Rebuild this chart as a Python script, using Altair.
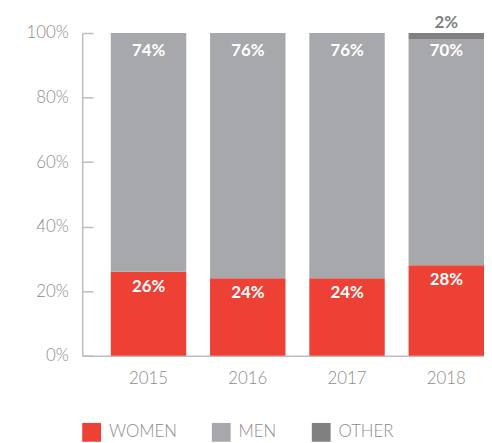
import altair as alt
import pandas as pd

years = ["2015", "2016", "2017", "2018"]
women = [26, 24, 24, 28]
men = [74, 76, 76, 70]
other = [0, 0, 0, 2]
groups = ["WOMEN", "MEN", "OTHER"]
colors = ["#EE4136", "#A7A8AB", "#808080"]
y_ticks = [0, 20, 40, 60, 80, 100]

rows = []
for i, yr in enumerate(years):
    for k, (g, v) in enumerate(zip(groups, [women[i], men[i], other[i]])):
        rows.append({"year": yr, "group": g, "value": v, "order": k})
bars_df = pd.DataFrame(rows)

lab_df = pd.DataFrame({
    "year": years,
    "women": women,
    "men": men,
    "other": other,
})
lab_df["total"] = lab_df["women"] + lab_df["men"] + lab_df["other"]
lab_df["w_lab"] = lab_df["women"].astype(str) + "%"
lab_df["m_lab"] = lab_df["men"].astype(str) + "%"
lab_df["o_lab"] = lab_df["other"].astype(str) + "%"

FONT = "Lato"
AXC = "#BCBEC0"
LABC = "#8C8C8C"

xscale = alt.Scale(domain=years, paddingInner=0.24, paddingOuter=0.144, align=1)
yscale = alt.Scale(domain=[0, 100], nice=False)

xaxis = alt.Axis(title=None, labelAngle=0, ticks=False, domain=True,
                 domainColor=AXC, domainWidth=1.5, labelPadding=15,
                 labelFontSize=17, labelColor=LABC, labelFont=FONT,
                 labelFontWeight=300)

bars = alt.Chart(bars_df).mark_bar().encode(
    x=alt.X("year:N", scale=xscale, axis=xaxis),
    y=alt.Y("value:Q", stack="zero", scale=yscale,
            axis=alt.Axis(title=None, values=y_ticks, labelExpr="datum.value + '%'",
                          ticks=False, domain=True, domainColor=AXC, domainWidth=1.5,
                          grid=False, labelPadding=14, labelFontSize=17,
                          labelColor=LABC, labelFont=FONT, labelFontWeight=300)),
    color=alt.Color("group:N", scale=alt.Scale(domain=groups, range=colors),
                    legend=alt.Legend(title=None, orient="none", legendX=0, legendY=394,
                                      direction="horizontal", symbolType="square",
                                      symbolSize=361, symbolStrokeWidth=0,
                                      labelOffset=8, columnPadding=35,
                                      labelFontSize=17, labelColor=LABC,
                                      labelFont=FONT, labelFontWeight=300)),
    order=alt.Order("order:Q"),
)

base = alt.Chart(lab_df)

w_text = base.mark_text(color="white", fontWeight="bold", fontSize=17, font=FONT,
                        dy=15, baseline="middle").encode(
    x=alt.X("year:N", scale=xscale, axis=xaxis),
    y=alt.Y("women:Q", scale=yscale,
            axis=alt.Axis(title=None, orient="left", values=y_ticks, offset=-11,
                          tickSize=11, tickColor=AXC, tickWidth=1.5, domain=False,
                          labels=False, grid=False)),
    text="w_lab:N",
)

m_text = base.mark_text(color="white", fontWeight="bold", fontSize=17, font=FONT,
                        dy=18, baseline="middle").encode(
    x=alt.X("year:N", scale=xscale, axis=xaxis),
    y=alt.Y("total:Q", scale=yscale, axis=None),
    text="m_lab:N",
)

o_text = base.transform_filter("datum.other > 0").mark_text(
    color="#808080", fontWeight="bold", fontSize=17, font=FONT,
    dy=-10, baseline="middle").encode(
    x=alt.X("year:N", scale=xscale, axis=xaxis),
    y=alt.Y("total:Q", scale=yscale, axis=None),
    text="o_lab:N",
)

chart = alt.layer(bars, w_text, m_text, o_text).resolve_axis(y="independent").properties(
    width=406, height=326,
    autosize=alt.AutoSizeParams(type="none"),
    padding={"left": 75, "top": 23, "right": 0, "bottom": 88},
).configure_view(stroke=None)

chart.save("out.html", embed_options={"renderer": "svg", "actions": False})
